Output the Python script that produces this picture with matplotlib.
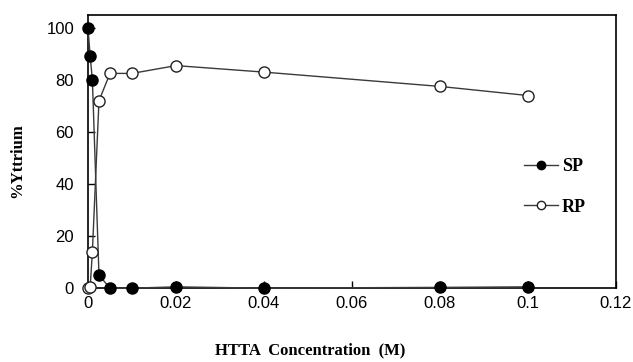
import matplotlib.pyplot as plt

# HTTA concentration (M)
sp_conc = [0, 0.0005, 0.001, 0.0025, 0.005, 0.01, 0.02, 0.04, 0.08, 0.1]
sp_yttrium = [100, 89, 80, 5, 0, 0, 0.5, 0, 0.3, 0.5]

rp_conc = [0, 0.0005, 0.001, 0.0025, 0.005, 0.01, 0.02, 0.04, 0.08, 0.1]
rp_yttrium = [0, 0.5, 14, 72, 82.5, 82.5, 85.5, 83, 77.5, 74]

x_ticks = [0, 0.02, 0.04, 0.06, 0.08, 0.1, 0.12]
x_tick_labels = ['0', '0.02', '0.04', '0.06', '0.08', '0.1', '0.12']
y_ticks = [0, 20, 40, 60, 80, 100]

fig = plt.figure(figsize=(6.33, 3.62), dpi=100)
ax = fig.add_axes([0.139, 0.204, 0.834, 0.755])

line_color = '#3a3a3a'
sp_line, = ax.plot(sp_conc, sp_yttrium, color=line_color, lw=1.0, marker='o',
                   ms=8, mfc='black', mec='black', zorder=3, clip_on=False)
rp_line, = ax.plot(rp_conc, rp_yttrium, color=line_color, lw=1.0, marker='o',
                   ms=8, mfc='white', mec='#222222', mew=1.0, zorder=4,
                   clip_on=False)

ax.set_xlim(0, 0.12)
ax.set_ylim(0, 105)
ax.set_xticks(x_ticks)
ax.set_xticklabels(x_tick_labels)
ax.set_yticks(y_ticks)
ax.tick_params(direction='in', length=5, width=1, labelsize=12, colors='black')
ax.tick_params(axis='y', pad=10)
ax.tick_params(axis='x', pad=6)
for lbl in ax.get_xticklabels() + ax.get_yticklabels():
    lbl.set_family('Liberation Sans')
for sp in ax.spines.values():
    sp.set_linewidth(1.2)
    sp.set_color('black')

fig.text(0.49, 0.033, 'HTTA  Concentration  (M)', ha='center', va='center',
         family='Liberation Serif', weight='bold', fontsize=12)
fig.text(0.028, 0.555, '%Yttrium', ha='center', va='center', rotation=90,
         family='Liberation Serif', weight='bold', fontsize=12)

leg = ax.legend([sp_line, rp_line], ['SP', 'RP'], loc='center left',
                bbox_to_anchor=(0.795, 0.37), frameon=False, handlelength=1.9,
                handletextpad=0.2, labelspacing=1.3, markerscale=0.75,
                prop={'family': 'Liberation Serif', 'weight': 'bold', 'size': 13})

fig.savefig('out.png', dpi=100)
